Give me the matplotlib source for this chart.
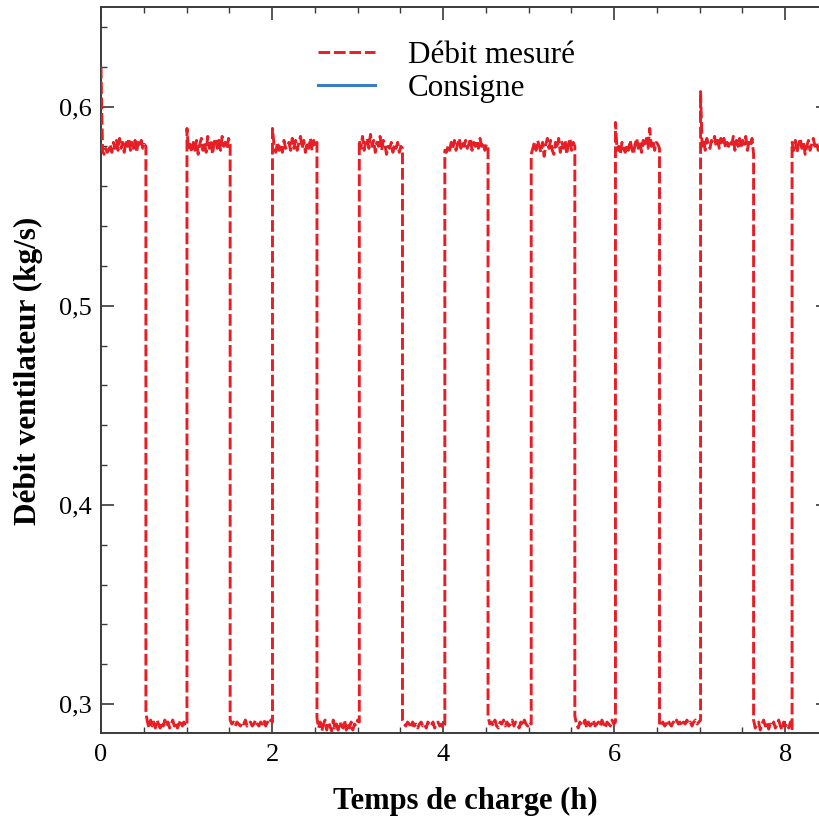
import numpy as np
import matplotlib
matplotlib.use("Agg")
import matplotlib.pyplot as plt
from matplotlib.ticker import MultipleLocator, FuncFormatter

# ---- data ----
switch_times = [0.0, 0.525, 1.005, 1.51, 2.005, 2.525, 3.02, 3.525, 4.02,
                4.525, 5.03, 5.54, 6.015, 6.53, 7.01, 7.63, 8.08, 8.5]

plateau_values = [
    # H0
    [0.620, 0.578, 0.576, 0.579, 0.577, 0.578, 0.581, 0.577, 0.582, 0.579, 0.583,
     0.578, 0.584, 0.579, 0.582, 0.577, 0.583, 0.580, 0.584, 0.578, 0.582, 0.579,
     0.583, 0.577, 0.582, 0.580, 0.583, 0.579, 0.581, 0.580],
    # L0
    [0.2955, 0.291, 0.288, 0.292, 0.289, 0.291, 0.288, 0.292, 0.290, 0.288, 0.291,
     0.289, 0.292, 0.289, 0.291, 0.288, 0.290, 0.292, 0.289, 0.291, 0.288, 0.290,
     0.292, 0.289, 0.291, 0.289, 0.290],
    # H1
    [0.589, 0.578, 0.581, 0.577, 0.582, 0.578, 0.583, 0.576, 0.581, 0.584, 0.578,
     0.582, 0.577, 0.585, 0.579, 0.583, 0.576, 0.582, 0.584, 0.579, 0.583, 0.578,
     0.585, 0.580, 0.582, 0.579, 0.584, 0.581],
    # L1
    [0.292, 0.290, 0.291, 0.289, 0.291, 0.290, 0.289, 0.291, 0.290, 0.292, 0.289,
     0.290, 0.291, 0.289, 0.290, 0.292, 0.290, 0.289, 0.291, 0.290, 0.292, 0.289,
     0.291, 0.290, 0.292, 0.291],
    # H2
    [0.589, 0.580, 0.577, 0.582, 0.578, 0.581, 0.577, 0.583, 0.579, 0.580, 0.582,
     0.578, 0.584, 0.579, 0.583, 0.578, 0.582, 0.585, 0.579, 0.583, 0.577, 0.582,
     0.579, 0.584, 0.578, 0.583, 0.580, 0.582],
    # L2
    [0.293, 0.288, 0.291, 0.2865, 0.290, 0.292, 0.287, 0.291, 0.289, 0.2865,
     0.292, 0.288, 0.290, 0.287, 0.291, 0.289, 0.288, 0.292, 0.287, 0.290, 0.288,
     0.291, 0.287, 0.290, 0.289, 0.292, 0.291],
    # H3
    [0.583, 0.579, 0.585, 0.578, 0.582, 0.584, 0.579, 0.586, 0.580, 0.583, 0.577,
     0.582, 0.580, 0.585, 0.578, 0.583, 0.581, 0.576, 0.580, 0.579, 0.582, 0.577,
     0.581, 0.579, 0.582, 0.577, 0.580, 0.579],
    # L3
    [0.292, 0.290, 0.289, 0.291, 0.290, 0.288, 0.291, 0.289, 0.290, 0.288, 0.290,
     0.291, 0.289, 0.290, 0.288, 0.291, 0.290, 0.289, 0.291, 0.288, 0.290, 0.291,
     0.289, 0.290, 0.288, 0.290],
    # H4
    [0.578, 0.577, 0.580, 0.578, 0.582, 0.579, 0.583, 0.578, 0.581, 0.584, 0.579,
     0.582, 0.580, 0.583, 0.579, 0.581, 0.584, 0.578, 0.582, 0.580, 0.583, 0.579,
     0.584, 0.580, 0.582, 0.578, 0.581, 0.580],
    # L4
    [0.294, 0.290, 0.291, 0.289, 0.292, 0.289, 0.288, 0.291, 0.290, 0.292, 0.289,
     0.291, 0.289, 0.290, 0.292, 0.289, 0.291, 0.290, 0.288, 0.291, 0.289, 0.292,
     0.290, 0.289, 0.291, 0.290],
    # H5
    [0.576, 0.579, 0.582, 0.578, 0.583, 0.580, 0.577, 0.582, 0.575, 0.581, 0.584,
     0.579, 0.583, 0.578, 0.576, 0.582, 0.579, 0.584, 0.577, 0.582, 0.579, 0.583,
     0.576, 0.581, 0.584, 0.578, 0.582, 0.580],
    # L5
    [0.294, 0.290, 0.288, 0.291, 0.289, 0.290, 0.292, 0.288, 0.291, 0.289, 0.290,
     0.292, 0.289, 0.290, 0.291, 0.289, 0.292, 0.290, 0.288, 0.291, 0.290, 0.289,
     0.292, 0.290, 0.291],
    # H6
    [0.592, 0.578, 0.580, 0.576, 0.582, 0.579, 0.577, 0.581, 0.578, 0.583, 0.579,
     0.576, 0.581, 0.584, 0.579, 0.582, 0.577, 0.583, 0.580, 0.584, 0.579, 0.589,
     0.580, 0.583, 0.578, 0.582, 0.581, 0.579],
    # L6
    [0.289, 0.290, 0.291, 0.289, 0.290, 0.292, 0.290, 0.289, 0.291, 0.290, 0.292,
     0.290, 0.291, 0.289, 0.291, 0.290, 0.292, 0.290, 0.291, 0.289, 0.291, 0.292,
     0.290, 0.291, 0.292],
    # H7
    [0.6075, 0.580, 0.583, 0.578, 0.584, 0.581, 0.579, 0.583, 0.582, 0.585, 0.580,
     0.583, 0.579, 0.584, 0.581, 0.584, 0.579, 0.582, 0.580, 0.583, 0.581, 0.585,
     0.578, 0.583, 0.580, 0.584, 0.579, 0.583, 0.581, 0.585, 0.578, 0.582, 0.580,
     0.584, 0.576],
    # L7
    [0.292, 0.288, 0.290, 0.291, 0.287, 0.290, 0.292, 0.289, 0.291, 0.2875, 0.290,
     0.289, 0.291, 0.288, 0.290, 0.292, 0.289, 0.287, 0.291, 0.289, 0.290, 0.288,
     0.291, 0.287],
    # H8
    [0.582, 0.578, 0.583, 0.577, 0.581, 0.584, 0.579, 0.582, 0.576, 0.580, 0.583,
     0.578, 0.581, 0.584, 0.580, 0.582, 0.578, 0.581, 0.583, 0.579, 0.581, 0.580,
     0.582],
]

consigne_times = []
consigne_values = []

x_ticks = [0, 2, 4, 6, 8]
y_ticks = [0.3, 0.4, 0.5, 0.6]

legend_labels = ["Débit mesuré", "Consigne"]
x_label = "Temps de charge (h)"
y_label = "Débit ventilateur (kg/s)"

# ---- build the measured series ----
t_meas = []
v_meas = []
for i, vals in enumerate(plateau_values):
    t0, t1 = switch_times[i], switch_times[i + 1]
    tt = np.linspace(t0, t1, len(vals))
    t_meas.extend(tt)
    v_meas.extend(vals)

# ---- figure ----
plt.rcParams['font.family'] = ['Liberation Serif', 'DejaVu Serif']

W, H = 820, 821
fig = plt.figure(figsize=(W / 100, H / 100), dpi=100)
left_px, right_px, top_px, bot_px = 101, 828, 7.5, 733
ax = fig.add_axes([left_px / W, 1 - bot_px / H,
                   (right_px - left_px) / W, (bot_px - top_px) / H])

red = '#e61e25'
blue = '#3b7dc4'
ax.plot(consigne_times, consigne_values, color=blue, lw=2.2,
        label=legend_labels[1], zorder=2)
ax.plot(t_meas, v_meas, color=red, lw=2.1, linestyle=(0, (4.0, 1.3)),
        label=legend_labels[0], zorder=3)

ax.set_xlim(0, 8.5)
ax.set_ylim(0.2855, 0.6497)

ax.set_xticks(x_ticks)
ax.set_yticks(y_ticks)
ax.xaxis.set_minor_locator(MultipleLocator(0.5))
ax.yaxis.set_minor_locator(MultipleLocator(0.02))
ax.xaxis.set_major_formatter(FuncFormatter(lambda v, p: f"{v:g}"))
ax.yaxis.set_major_formatter(FuncFormatter(lambda v, p: f"{v:.1f}".replace('.', ',')))

spine_col = '#3a3a3a'
for s in ax.spines.values():
    s.set_color(spine_col)
    s.set_linewidth(1.4)

ax.tick_params(which='both', direction='in', top=True, right=True, color=spine_col)
ax.tick_params(which='major', length=9, width=1.2, labelsize=19, pad=8)
ax.tick_params(which='minor', length=4.5, width=1.0)
ax.tick_params(axis='y', which='major', pad=7)

fig.text((333 + 598) / 2 / W, 1 - 801 / H, x_label, ha='center', va='center',
         fontsize=22, fontweight='bold')
fig.text(28 / W, 1 - 371 / H, y_label, ha='center', va='center', rotation=90,
         fontsize=22.5, fontweight='bold')

handles, labels = ax.get_legend_handles_labels()
order = [1, 0]
leg = fig.legend([handles[i] for i in order], [labels[i] for i in order],
                 loc='upper left', bbox_to_anchor=(318 / W, 1 - 41 / H),
                 frameon=False, fontsize=22.4, handlelength=1.83, handletextpad=1.06,
                 borderpad=0, borderaxespad=0, labelspacing=0.12)

fig.savefig('out.png', dpi=100)
